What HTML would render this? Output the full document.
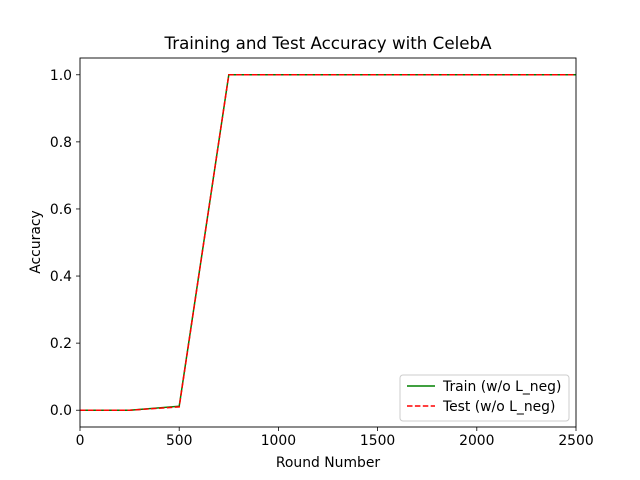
<!DOCTYPE html>
<html><head><meta charset="utf-8"><style>
body{margin:0;background:#fff;}
svg{display:block;font-family:"DejaVu Sans","Liberation Sans",sans-serif;}
</style></head><body>
<svg id="chart" width="640" height="480">
<rect x="0" y="0" width="640" height="480" fill="#fff"/>
<text x="328" y="49" font-size="16.7" text-anchor="middle">Training and Test Accuracy with CelebA</text>
<g id="ticks"></g>
<g id="series"></g>
<rect x="80" y="58" width="496" height="369" fill="none" stroke="#000" stroke-width="0.9"/>
<text x="328" y="467" font-size="13.9" text-anchor="middle">Round Number</text>
<text x="40" y="242" font-size="13.9" text-anchor="middle" transform="rotate(-90 40 242)">Accuracy</text>
<g>
<rect x="400" y="375" width="169" height="46" rx="3" fill="#fff" fill-opacity="0.8" stroke="#ccc" stroke-width="1"/>
<line x1="407" y1="386" x2="435" y2="386" stroke="green" stroke-width="1.5"/>
<text x="443" y="391" font-size="13.9">Train (w/o L_neg)</text>
<line x1="407" y1="406" x2="435" y2="406" stroke="red" stroke-width="1.5" stroke-dasharray="5.5,2.4"/>
<text x="443" y="411" font-size="13.9">Test (w/o L_neg)</text>
</g>
</svg>
<script>
const rounds=[0,250,500,750,1000,1250,1500,1750,2000,2250,2500];
const trainAcc=[0,0,0.012,1,1,1,1,1,1,1,1];
const testAcc=[0,0,0.01,1,1,1,1,1,1,1,1];
const xTicks=[0,500,1000,1500,2000,2500];
const yTicks=[0.0,0.2,0.4,0.6,0.8,1.0];
const NS="http://www.w3.org/2000/svg";
const X0=80,X1=576,Y0=427,Y1=58,xmin=0,xmax=2500,ymin=-0.05,ymax=1.05;
const sx=v=>X0+(v-xmin)/(xmax-xmin)*(X1-X0);
const sy=v=>Y0-(v-ymin)/(ymax-ymin)*(Y0-Y1);
const tg=document.getElementById('ticks'),sg=document.getElementById('series');
function mk(t,a){const e=document.createElementNS(NS,t);for(const k in a)e.setAttribute(k,a[k]);return e;}
xTicks.forEach(v=>{const x=sx(v);
const l=mk('line',{x1:x,y1:Y0,x2:x,y2:Y0+4,stroke:'#000','stroke-width':0.8});

tg.appendChild(l);
const t=mk('text',{x:x,y:Y0+18,'font-size':13.9,'text-anchor':'middle'});t.textContent=v;

tg.appendChild(t);});
yTicks.forEach(v=>{const y=sy(v);
const l=mk('line',{x1:X0-4,y1:y,x2:X0,y2:y,stroke:'#000','stroke-width':0.8});

tg.appendChild(l);
const t=mk('text',{x:X0-8,y:y+5,'font-size':13.9,'text-anchor':'end'});t.textContent=v.toFixed(1);

tg.appendChild(t);});
function line(vals,color,dash,name){
const p=mk('polyline',{points:rounds.map((r,i)=>sx(r)+','+sy(vals[i])).join(' '),fill:'none',stroke:color,'stroke-width':1.5});
if(dash)p.setAttribute('stroke-dasharray',dash);


sg.appendChild(p);}
line(trainAcc,'green',null,'train-accuracy-line');
line(testAcc,'red','5.5,2.4','test-accuracy-line');
</script>
</body></html>
